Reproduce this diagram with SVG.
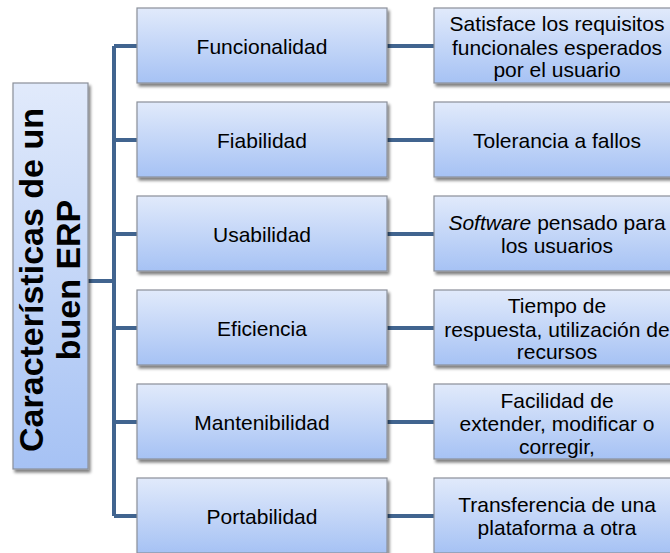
<svg xmlns="http://www.w3.org/2000/svg" width="670" height="553" viewBox="0 0 670 553">
<defs>
<linearGradient id="g" x1="0" y1="0" x2="0" y2="1">
<stop offset="0" stop-color="#e1eafb"/>
<stop offset="1" stop-color="#a6c2f4"/>
</linearGradient>
<filter id="sh" x="-10%" y="-10%" width="130%" height="130%">
<feGaussianBlur in="SourceAlpha" stdDeviation="1.5"/>
<feOffset dx="1.5" dy="2.5"/>
<feComponentTransfer><feFuncA type="linear" slope="0.5"/></feComponentTransfer>
<feMerge><feMergeNode/><feMergeNode in="SourceGraphic"/></feMerge>
</filter>
</defs>
<style>
.box{fill:url(#g);stroke:#8a8f99;stroke-width:1.2;filter:url(#sh)}
.t{font-family:"Liberation Sans",Arial,sans-serif;font-size:21px;fill:#000;text-anchor:middle}
.h{font-family:"Liberation Sans",Arial,sans-serif;font-size:34px;font-weight:bold;fill:#000;text-anchor:middle}
.c{fill:none;stroke:#41648f;stroke-width:4}
</style>
<g id="connectors">
<path class="c" d="M88 281H114M114 46V516M114 46H137M114 140H137M114 234H137M114 328H137M114 422H137M114 516H137"/>
<path class="c" d="M387 46H434M387 140H434M387 234H434M387 328H434M387 422H434M387 516H434"/>
</g>
<g id="root">
<rect class="box" x="13" y="83" width="75" height="386"/>
<text class="h" transform="translate(50 280) rotate(-90)"><tspan x="0" y="-7">Características de un</tspan><tspan x="0" y="30">buen ERP</tspan></text>
</g>
<g id="n1"><rect class="box" x="137" y="8" width="250" height="75"/><text class="t" x="262" y="54">Funcionalidad</text></g>
<g id="n2"><rect class="box" x="137" y="102" width="250" height="75"/><text class="t" x="262" y="148">Fiabilidad</text></g>
<g id="n3"><rect class="box" x="137" y="196" width="250" height="75"/><text class="t" x="262" y="242">Usabilidad</text></g>
<g id="n4"><rect class="box" x="137" y="290" width="250" height="75"/><text class="t" x="262" y="336">Eficiencia</text></g>
<g id="n5"><rect class="box" x="137" y="384" width="250" height="75"/><text class="t" x="262" y="430">Mantenibilidad</text></g>
<g id="n6"><rect class="box" x="137" y="478" width="250" height="75"/><text class="t" x="262" y="524">Portabilidad</text></g>
<g id="d1"><rect class="box" x="434" y="8" width="250" height="75"/><text class="t"><tspan x="557" y="31">Satisface los requisitos</tspan><tspan x="557" y="54.5">funcionales esperados</tspan><tspan x="557" y="77">por el usuario</tspan></text></g>
<g id="d2"><rect class="box" x="434" y="102" width="250" height="75"/><text class="t" x="557" y="148">Tolerancia a fallos</text></g>
<g id="d3"><rect class="box" x="434" y="196" width="250" height="75"/><text class="t"><tspan x="557" y="230"><tspan font-style="italic">Software</tspan> pensado para</tspan><tspan x="557" y="253">los usuarios</tspan></text></g>
<g id="d4"><rect class="box" x="434" y="290" width="250" height="75"/><text class="t"><tspan x="557" y="313">Tiempo de</tspan><tspan x="557" y="336.5">respuesta, utilización de</tspan><tspan x="557" y="359">recursos</tspan></text></g>
<g id="d5"><rect class="box" x="434" y="384" width="250" height="75"/><text class="t"><tspan x="557" y="407.5">Facilidad de</tspan><tspan x="557" y="431">extender, modificar o</tspan><tspan x="557" y="454">corregir,</tspan></text></g>
<g id="d6"><rect class="box" x="434" y="478" width="250" height="75"/><text class="t"><tspan x="557" y="512">Transferencia de una</tspan><tspan x="557" y="535">plataforma a otra</tspan></text></g>
</svg>
